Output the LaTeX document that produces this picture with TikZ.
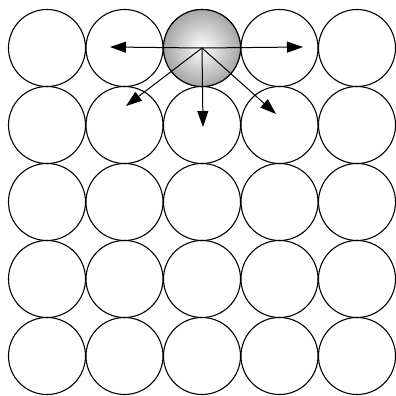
\documentclass[tikz,border=0pt]{standalone}
\usepackage{tikz}
\usetikzlibrary{arrows.meta,calc,positioning}
\tikzset{
    cell/.style={circle, draw, line width=1.1pt, minimum size=77pt, inner sep=0pt},
    push/.style={line width=1pt, -{Triangle[length=16pt,width=11pt]}}
}

\begin{document}
\begin{tikzpicture}[x=1pt,y=-1pt]
    \useasboundingbox (0,0) rectangle (396,396);
    \fill[white] (0,0) rectangle (396,396);

    % Lattice of spheres
    \foreach \col in {1,...,5} {
        \foreach \row in {1,...,5} {
            \node[cell] (c\row\col) at ({47+77.5*(\col-1)},{48+77*(\row-1)}) {};
        }
    }

    % Moving sphere
    \node[cell, inner color=white, outer color=gray!70, shading=radial] (atom) at (c13) {};

    % Arrow ends
    \coordinate (tipL) at (110,47);
    \coordinate (tipR) at (303,47);
    \coordinate (tipD) at (203,127);
    \coordinate (tipDL) at (126,106);
    \coordinate (tipDR) at (276,114);

    % Directions
    \draw[push] (atom.center) -- (tipL);
    \draw[push] (atom.center) -- (tipR);
    \draw[push] (atom.center) -- (tipD);
    \draw[push] (atom.center) -- (tipDL);
    \draw[push] (atom.center) -- (tipDR);
\end{tikzpicture}
\end{document}
